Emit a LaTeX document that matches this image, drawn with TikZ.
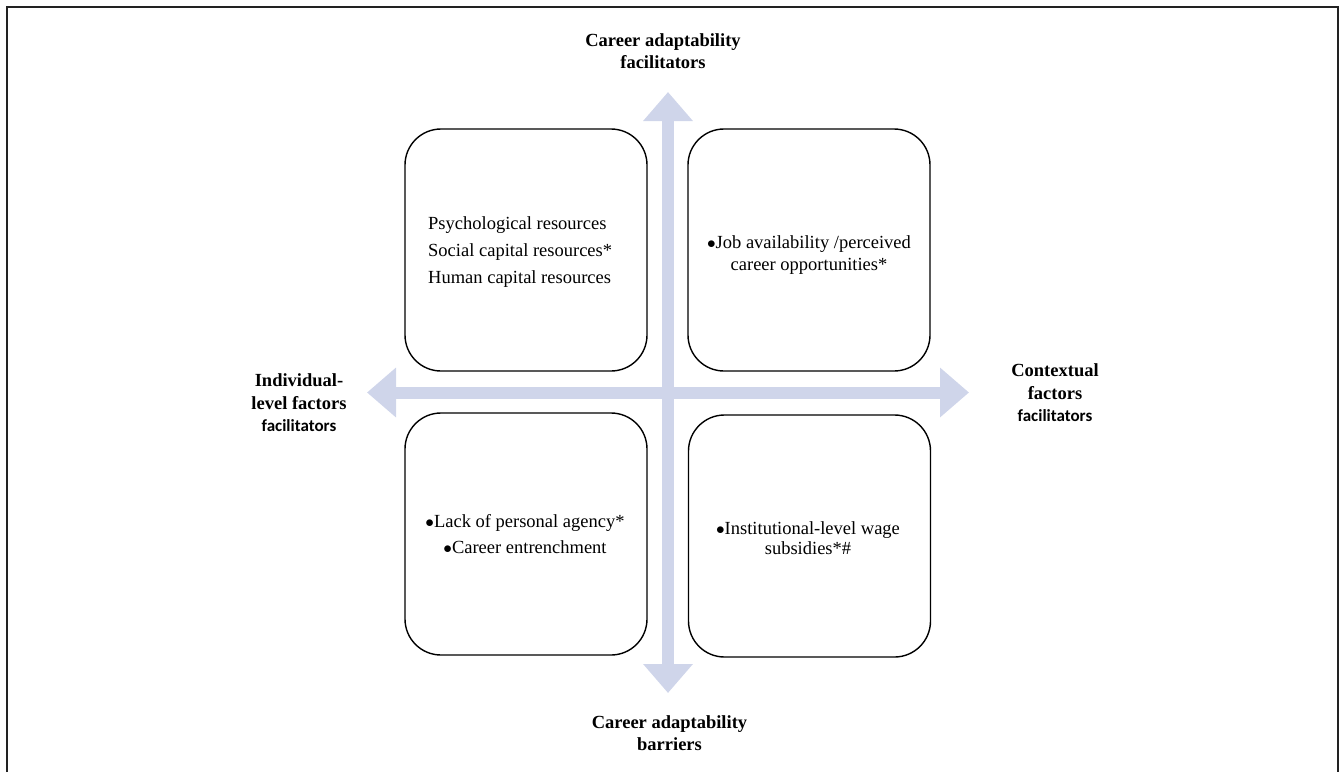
\documentclass[tikz,border=0pt]{standalone}
\usepackage{fontspec}
\setmainfont{Liberation Serif}
\newfontfamily\labelsans{Carlito}
\usepackage{xcolor}
\usepackage{tikz}
\usetikzlibrary{arrows.meta}
\definecolor{axisblue}{HTML}{CFD5EA}
\definecolor{framegray}{HTML}{222222}
\newcommand{\pkt}{$\bullet$}

\begin{document}
\begin{tikzpicture}[x=1pt, y=-1pt,
    quadbox/.style={draw, black, line width=1.4pt, rounded corners=36pt, minimum width=242pt, minimum height=242pt, inner sep=0pt},
    axisarrow/.style={axisblue, line width=12pt, {Triangle[length=29pt,width=48pt]}-{Triangle[length=29pt,width=48pt]}},
    axislabel/.style={font=\fontsize{18.5}{22.5}\selectfont\bfseries, align=center, inner sep=0pt}]
    \useasboundingbox (0,0) rectangle (1343,772);

    % ========== Ramka ==========
    \draw[framegray, line width=2.2pt] (7,772) -- (7,7) -- (1338,7) -- (1338,772);

    % ========== Osie ==========
    \coordinate (axtop) at (668,92);
    \coordinate (axbottom) at (668,693);
    \coordinate (axleft) at (367,392.5);
    \coordinate (axright) at (969,392.5);
    \draw[axisarrow] (axleft) -- (axright);
    \draw[axisarrow] (axtop) -- (axbottom);

    % Opisy osi
    \node[axislabel] (toplabel) at (663,51) {Career adaptability\\facilitators};
    \node[axislabel] (bottomlabel) at (669.5,733) {Career adaptability\\barriers};
    \node[axislabel] (leftlabel) at (299,403) {Individual-\\level factors\\{\labelsans\fontsize{17}{22.5}\selectfont facilitators}};
    \node[axislabel] (rightlabel) at (1055,393) {Contextual\\factors\\{\labelsans\fontsize{17}{22.5}\selectfont facilitators}};

    % ========== Cwiartki ==========
    \node[quadbox] (boxtl) at (526,250) {};
    \node[quadbox] (boxtr) at (809,250) {};
    \node[quadbox] (boxbl) at (526,534) {};
    \node[quadbox] (boxbr) at (809.5,536) {};

    % Teksty w cwiartkach
    \node[anchor=west, align=left, inner sep=0pt, font=\fontsize{18.5}{27}\selectfont] (texttl) at (428,252)
        {Psychological resources\\Social capital resources*\\Human capital resources};
    \node[align=center, inner sep=0pt, font=\fontsize{18.5}{21.5}\selectfont] (texttr) at (809,255)
        {\pkt Job availability /perceived\\career opportunities*};
    \node[align=center, inner sep=0pt, font=\fontsize{18.5}{26.5}\selectfont] (textbl) at (525,534)
        {\pkt Lack of personal agency*\\\pkt Career entrenchment};
    \node[align=center, inner sep=0pt, font=\fontsize{18.5}{20}\selectfont] (textbr) at (808,538)
        {\pkt Institutional-level wage\\subsidies*\#};
\end{tikzpicture}
\end{document}
